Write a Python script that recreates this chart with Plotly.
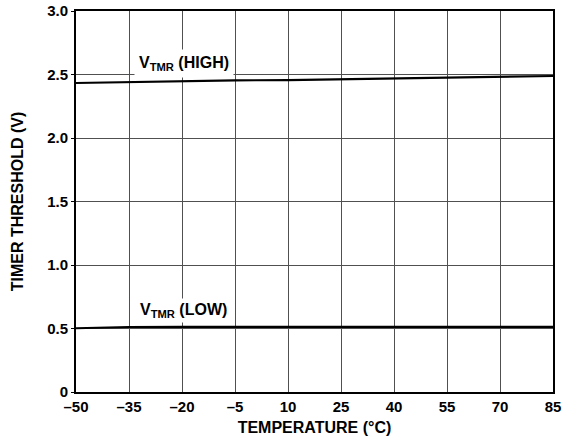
import plotly.graph_objects as go

temps = [-50, -35, -20, -5, 10, 25, 40, 55, 70, 85]
v_high = [2.433, 2.440, 2.451, 2.454, 2.456, 2.462, 2.468, 2.476, 2.480, 2.488]
v_low = [0.502, 0.512, 0.513, 0.513, 0.513, 0.513, 0.513, 0.513, 0.513, 0.513]
x_ticks = [-50, -35, -20, -5, 10, 25, 40, 55, 70, 85]
x_ticktext = ["–50", "–35", "–20", "–5", "10", "25", "40", "55", "70", "85"]
y_ticks = [0, 0.5, 1.0, 1.5, 2.0, 2.5, 3.0]
y_ticktext = ["0", "0.5", "1.0", "1.5", "2.0", "2.5", "3.0"]

FONT = "Liberation Sans, Arial, sans-serif"

fig = go.Figure()
fig.add_trace(go.Scatter(x=temps, y=v_high, mode="lines",
                         line=dict(color="black", width=2.2), showlegend=False))
fig.add_trace(go.Scatter(x=temps, y=v_low, mode="lines",
                         line=dict(color="black", width=2.2), showlegend=False))

fig.add_annotation(x=-19.5, y=2.585, text="<b>V<sub>TMR</sub> (HIGH)</b>", showarrow=False,
                   bgcolor="white", font=dict(family=FONT, size=16, color="black"),
                   xanchor="center", yanchor="middle", borderpad=4)
fig.add_annotation(x=-19.5, y=0.645, text="<b>V<sub>TMR</sub> (LOW)</b>", showarrow=False,
                   bgcolor="white", font=dict(family=FONT, size=16, color="black"),
                   xanchor="center", yanchor="middle", borderpad=2)

fig.update_layout(
    template="none",
    width=565, height=444,
    margin=dict(l=76, r=12, t=11, b=52),
    paper_bgcolor="white", plot_bgcolor="white",
    font=dict(family=FONT, size=15, color="black"),
    xaxis=dict(range=[-50, 85], tickvals=x_ticks, ticktext=x_ticktext,
               automargin=False,
               showgrid=True, gridcolor="#505050", gridwidth=1.4,
               showline=True, linecolor="black", linewidth=2, mirror=True,
               ticks="", zeroline=False,
               tickfont=dict(family=FONT, size=15, color="black", weight="bold"),
               title=dict(text="<b>TEMPERATURE (°C)</b>", standoff=8,
                          font=dict(family=FONT, size=16, color="black"))),
    yaxis=dict(range=[0, 3], tickvals=y_ticks, ticktext=y_ticktext,
               automargin=False,
               showgrid=True, gridcolor="#505050", gridwidth=1.4,
               showline=True, linecolor="black", linewidth=2, mirror=True,
               ticks="outside", ticklen=3, tickwidth=1.3, tickcolor="black",
               zeroline=False,
               tickfont=dict(family=FONT, size=15, color="black", weight="bold"),
               title=dict(text="<b>TIMER THRESHOLD (V)</b>", standoff=20,
                          font=dict(family=FONT, size=16, color="black"))),
)

fig.write_html("out.html", config={"displayModeBar": False},
               post_script="document.body.style.margin='0';")
